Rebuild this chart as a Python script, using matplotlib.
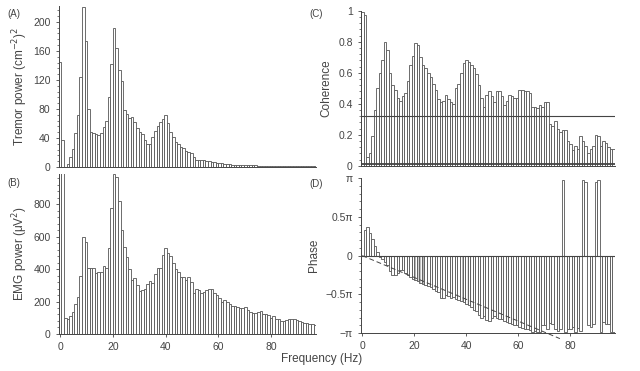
import numpy as np
import matplotlib.pyplot as plt
from matplotlib.ticker import MultipleLocator

plt.rcParams['font.family'] = ['Liberation Sans', 'DejaVu Sans']
plt.rcParams['hatch.linewidth'] = 0.3

# -----------------------------
# Spectral data (1 bin ~ 0.977 Hz)
# -----------------------------
df = 0.9766
freq = np.arange(100) * df

tremor_power = [145, 37, 0, 4, 14, 25, 47, 72, 124, 220,
                174, 80, 48, 47, 45, 44, 47, 55, 63, 97,
                142, 192, 164, 133, 118, 79, 73, 67, 69, 62,
                54, 48, 45, 37, 32, 32, 41, 49, 56, 62,
                66, 72, 60, 48, 41, 35, 32, 28, 26, 22,
                21, 19, 14, 10, 9, 9, 9, 8, 8, 7,
                7, 6, 5, 5, 4, 4, 4, 3, 3, 3,
                3, 2, 2, 2, 2, 2, 2, 1.5, 1.5, 1.5,
                1.5, 1.5, 1, 1, 1, 1, 1, 1, 1, 1,
                1, 1, 1, 1, 1, 1, 1, 1, 1, 1]

emg_power = [1100, 1100, 100, 95, 110, 135, 185, 230, 360, 600,
             570, 405, 410, 410, 375, 385, 380, 420, 410, 530,
             780, 985, 970, 820, 640, 535, 475, 400, 330, 345,
             300, 265, 270, 280, 310, 325, 315, 370, 405, 410,
             490, 530, 500, 480, 440, 400, 380, 350, 350, 330,
             350, 320, 250, 280, 270, 250, 260, 270, 280, 275,
             250, 240, 220, 200, 210, 195, 185, 175, 170, 165,
             160, 160, 165, 150, 135, 130, 130, 135, 140, 125,
             120, 115, 100, 110, 95, 90, 80, 80, 85, 95,
             95, 90, 85, 80, 75, 70, 65, 60, 60, 55]

coherence = [0.99, 0.97, 0.06, 0.08, 0.19, 0.36, 0.50, 0.60, 0.68, 0.80,
             0.75, 0.60, 0.52, 0.49, 0.44, 0.42, 0.45, 0.47, 0.55, 0.65,
             0.71, 0.79, 0.78, 0.70, 0.65, 0.63, 0.60, 0.57, 0.53, 0.49,
             0.43, 0.41, 0.42, 0.46, 0.43, 0.41, 0.40, 0.50, 0.53, 0.60,
             0.66, 0.68, 0.67, 0.65, 0.63, 0.59, 0.52, 0.44, 0.38, 0.46,
             0.48, 0.45, 0.41, 0.48, 0.48, 0.45, 0.39, 0.42, 0.46, 0.45,
             0.44, 0.44, 0.49, 0.49, 0.48, 0.48, 0.47, 0.38, 0.38, 0.37,
             0.39, 0.38, 0.41, 0.41, 0.27, 0.26, 0.29, 0.24, 0.22, 0.23,
             0.23, 0.16, 0.14, 0.10, 0.13, 0.11, 0.19, 0.16, 0.13, 0.08,
             0.11, 0.13, 0.20, 0.19, 0.13, 0.16, 0.15, 0.12, 0.11, 0.11]

# phase in units of pi
phase = [0.0, 0.33, 0.37, 0.29, 0.22, 0.13, 0.05, -0.02, -0.05, -0.08,
         -0.12, -0.20, -0.25, -0.25, -0.22, -0.18, -0.18, -0.22, -0.25, -0.27,
         -0.30, -0.31, -0.33, -0.35, -0.36, -0.38, -0.39, -0.41, -0.43, -0.45,
         -0.47, -0.55, -0.55, -0.51, -0.52, -0.55, -0.54, -0.56, -0.57, -0.59,
         -0.60, -0.62, -0.64, -0.66, -0.70, -0.72, -0.76, -0.80, -0.78, -0.83,
         -0.84, -0.80, -0.78, -0.80, -0.82, -0.82, -0.84, -0.86, -0.87, -0.88,
         -0.89, -0.90, -0.92, -0.93, -0.94, -0.95, -0.96, -0.98, -0.97, -0.98,
         -0.99, -0.90, -0.90, -0.94, -0.87, -0.88, -0.95, -0.97, -0.95, 0.97,
         -0.98, -0.95, -0.95, -0.92, -0.98, -0.93, -0.97, 0.98, 0.95, -0.90,
         -0.92, -0.88, 0.95, 0.98, -0.98, -0.85, -0.88, -0.88, -0.99, -0.99]

shaded_bins = list(range(20, 25)) + list(range(39, 45))
coh_limit = 0.32
delay_slope = -1 / 71.0   # phase (pi units) per Hz

# -----------------------------
# Figure
# -----------------------------
ink = '#444444'
bar_kw = dict(width=df, color='white', edgecolor='#555555', linewidth=0.6)
xlim = (-df / 2, 97.2)

fig = plt.figure(figsize=(6.4, 3.71), dpi=100)
axA = fig.add_axes([0.092, 0.550, 0.402, 0.434])
axB = fig.add_axes([0.092, 0.100, 0.402, 0.432])
axC = fig.add_axes([0.564, 0.553, 0.397, 0.418])
axD = fig.add_axes([0.564, 0.102, 0.397, 0.418])


def style(ax):
    for s in ['top', 'right']:
        ax.spines[s].set_visible(False)
    for s in ['left', 'bottom']:
        ax.spines[s].set_color(ink)
        ax.spines[s].set_linewidth(0.7)
    ax.tick_params(colors=ink, labelsize=7.5, length=2.5, width=0.6)
    ax.tick_params(which='minor', length=1.5, width=0.5, colors=ink)
    ax.set_xlim(*xlim)


# (A) tremor power
axA.bar(freq, tremor_power, **bar_kw)
style(axA)
axA.set_ylim(0, 222)
axA.set_yticks([0, 40, 80, 120, 160, 200])
axA.yaxis.set_minor_locator(MultipleLocator(8))
axA.set_xticks([])
axA.set_ylabel('Tremor power (cm$^{-2}$)$^2$', color=ink, fontsize=8.5, labelpad=2)

# (B) EMG power
axB.bar(freq, emg_power, **bar_kw)
style(axB)
axB.set_ylim(0, 990)
axB.set_yticks([0, 200, 400, 600, 800])
axB.yaxis.set_minor_locator(MultipleLocator(40))
axB.set_xticks([0, 20, 40, 60, 80])
axB.set_ylabel('EMG power (\u03bcV$^2$)', color=ink, fontsize=8.5, labelpad=2)

# (C) coherence
axC.bar(freq, coherence, **bar_kw)
style(axC)
axC.set_ylim(0, 1.0)
axC.set_yticks([0, 0.2, 0.4, 0.6, 0.8, 1])
axC.set_yticklabels(['0', '0.2', '0.4', '0.6', '0.8', '1'])
axC.yaxis.set_minor_locator(MultipleLocator(0.04))
axC.set_xticks([])
axC.axhline(coh_limit, color=ink, lw=0.8)
axC.axhline(0.012, color=ink, lw=1.3)
axC.set_ylabel('Coherence', color=ink, fontsize=8.5, labelpad=4)

# (D) phase
phase_rad = np.array(phase) * np.pi
bars = axD.bar(freq, phase_rad, **bar_kw)
for k in shaded_bins:
    bars[k].set_hatch('||||||')
style(axD)
axD.set_ylim(-np.pi, np.pi)
axD.set_yticks([-np.pi, -0.5 * np.pi, 0, 0.5 * np.pi, np.pi])
axD.set_yticklabels(['\u2212\u03c0', '\u22120.5\u03c0', '0', '0.5\u03c0', '\u03c0'])
axD.yaxis.set_minor_locator(MultipleLocator(np.pi / 10))
axD.set_xticks([0, 20, 40, 60, 80])
axD.axhline(0, color=ink, lw=0.8)
fline = np.array([0, 76])
axD.plot(fline, delay_slope * fline * np.pi, ls=(0, (5, 3)), color=ink,
         lw=0.7, clip_on=False)
axD.set_ylabel('Phase', color=ink, fontsize=8.5, labelpad=4)

fig.text(0.012, 0.955, '(A)', fontsize=7, color=ink)
fig.text(0.012, 0.500, '(B)', fontsize=7, color=ink)
fig.text(0.483, 0.955, '(C)', fontsize=7, color=ink)
fig.text(0.483, 0.497, '(D)', fontsize=7, color=ink)
fig.text(0.503, 0.025, 'Frequency (Hz)', fontsize=8.5, color=ink, ha='center')

fig.savefig('out.png', dpi=100, facecolor='white')
